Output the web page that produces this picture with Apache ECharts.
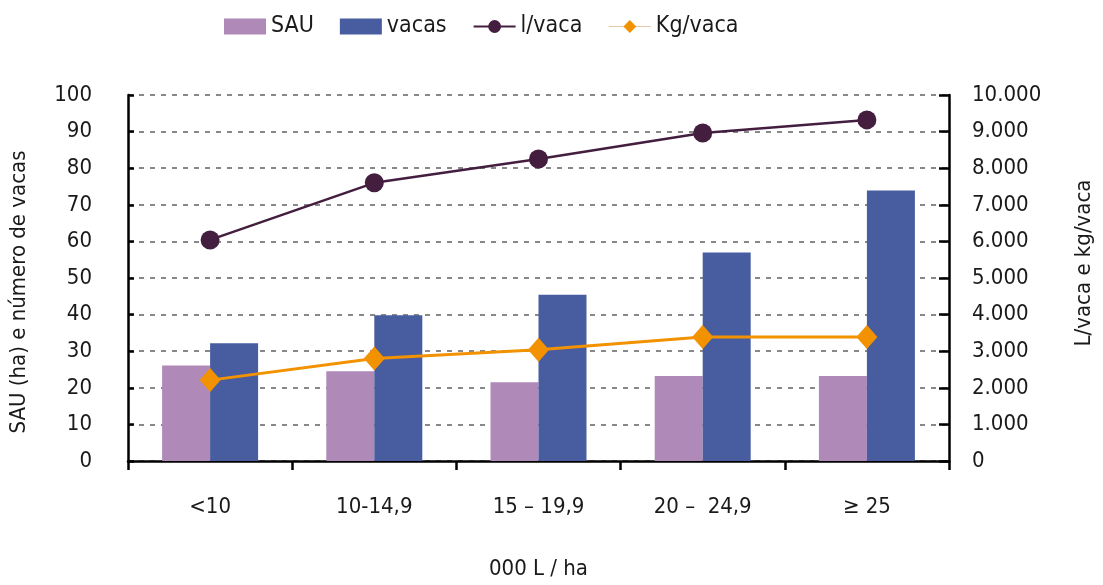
<!DOCTYPE html>
<html>
<head>
<meta charset="utf-8">
<script src="https://cdn.jsdelivr.net/npm/echarts@6/dist/echarts.min.js"></script>
<style>
  html, body { margin: 0; padding: 0; background: #fff; width: 100%; height: 100%; overflow: hidden; }
  #chartBox { width: 100%; height: 100%; }
</style>
</head>
<body>
<div id="chartBox"></div>
<script>
// classes de produção por hectare
const categorias = ['<10', '10-14,9', '15 – 19,9', '20 –  24,9', '≥ 25']
const sau = [26.1, 24.5, 21.5, 23.2, 23.2]
const vacas = [32.2, 39.8, 45.4, 57, 73.9]
const litrosVaca = [6040, 7600, 8250, 8960, 9320]
const kgVaca = [2210, 2800, 3040, 3390, 3390]

const fonte = '"Liberation Sans Narrow", "DejaVu Sans Condensed", sans-serif'
const cor = { sau: '#AF8AB8', vacas: '#485DA0', litros: '#431E3F', kg: '#F39200' }

const chart = echarts.init(document.getElementById('chartBox'), null, { renderer: 'canvas' })

const option = {
  animation: false,
  textStyle: { fontFamily: fonte, color: '#1a1a1a' },
  legend: {
    top: 10,
    left: 219,
    itemWidth: 42,
    itemHeight: 16,
    itemGap: 26,
    textStyle: { fontSize: 23, fontFamily: fonte, color: '#1a1a1a' },
    data: [
      { name: 'SAU', icon: 'rect' },
      { name: 'vacas', icon: 'rect' },
      { name: 'l/vaca' },
      { name: 'Kg/vaca', lineStyle: { width: 1, color: '#e6c8aa' } }
    ]
  },
  grid: { left: 127, right: 139, top: 95, bottom: 111, containLabel: false },
  xAxis: {
    type: 'category',
    data: categorias,
    name: '000 L / ha',
    nameLocation: 'middle',
    nameGap: 97,
    nameTextStyle: { fontSize: 22, fontFamily: fonte, color: '#1a1a1a' },
    axisLine: { lineStyle: { color: '#000', width: 2.5 } },
    axisTick: { show: true, length: 9, lineStyle: { color: '#000', width: 2.5 } },
    axisLabel: { fontSize: 22, margin: 35, color: '#1a1a1a', fontFamily: fonte }
  },
  yAxis: [
    {
      type: 'value',
      min: 0, max: 100, interval: 10,
      name: 'SAU (ha) e número de vacas',
      nameLocation: 'middle',
      nameGap: 98,
      nameTextStyle: { fontSize: 22, fontFamily: fonte, color: '#1a1a1a', padding: [0, 28, 0, 0] },
      axisLine: { show: true, lineStyle: { color: '#000', width: 2.5 } },
      axisTick: { show: true, inside: true, length: 6, lineStyle: { color: '#000', width: 2.5 } },
      axisLabel: { fontSize: 22, margin: 36, color: '#1a1a1a', fontFamily: fonte },
      splitLine: { show: true, lineStyle: { color: '#888', width: 2, type: [5, 6] } }
    },
    {
      type: 'value',
      min: 0, max: 10000, interval: 1000,
      name: 'L/vaca e kg/vaca',
      nameLocation: 'middle',
      nameGap: 124,
      nameTextStyle: { fontSize: 22, fontFamily: fonte, color: '#1a1a1a', padding: [0, 0, 0, 30] },
      axisLine: { show: true, lineStyle: { color: '#000', width: 2.5 } },
      axisTick: { show: true, inside: true, length: 10, lineStyle: { color: '#000', width: 2.5 } },
      axisLabel: {
        fontSize: 22, margin: 23, color: '#1a1a1a', fontFamily: fonte,
        formatter: v => v.toString().replace(/\B(?=(\d{3})+(?!\d))/g, '.')
      },
      splitLine: { show: false }
    }
  ],
  series: [
    {
      name: 'SAU', type: 'bar', data: sau,
      barWidth: 48, barGap: '0%',
      itemStyle: { color: cor.sau }
    },
    {
      name: 'vacas', type: 'bar', data: vacas,
      barWidth: 48,
      itemStyle: { color: cor.vacas }
    },
    {
      name: 'l/vaca', type: 'line', yAxisIndex: 1, data: litrosVaca,
      symbol: 'circle', symbolSize: 19,
      lineStyle: { color: cor.litros, width: 2.5 },
      itemStyle: { color: cor.litros }
    },
    {
      name: 'Kg/vaca', type: 'line', yAxisIndex: 1, data: kgVaca,
      symbol: 'diamond', symbolSize: [21, 24],
      lineStyle: { color: cor.kg, width: 3 },
      itemStyle: { color: cor.kg }
    }
  ]
}
chart.setOption(option)
</script>
</body>
</html>
